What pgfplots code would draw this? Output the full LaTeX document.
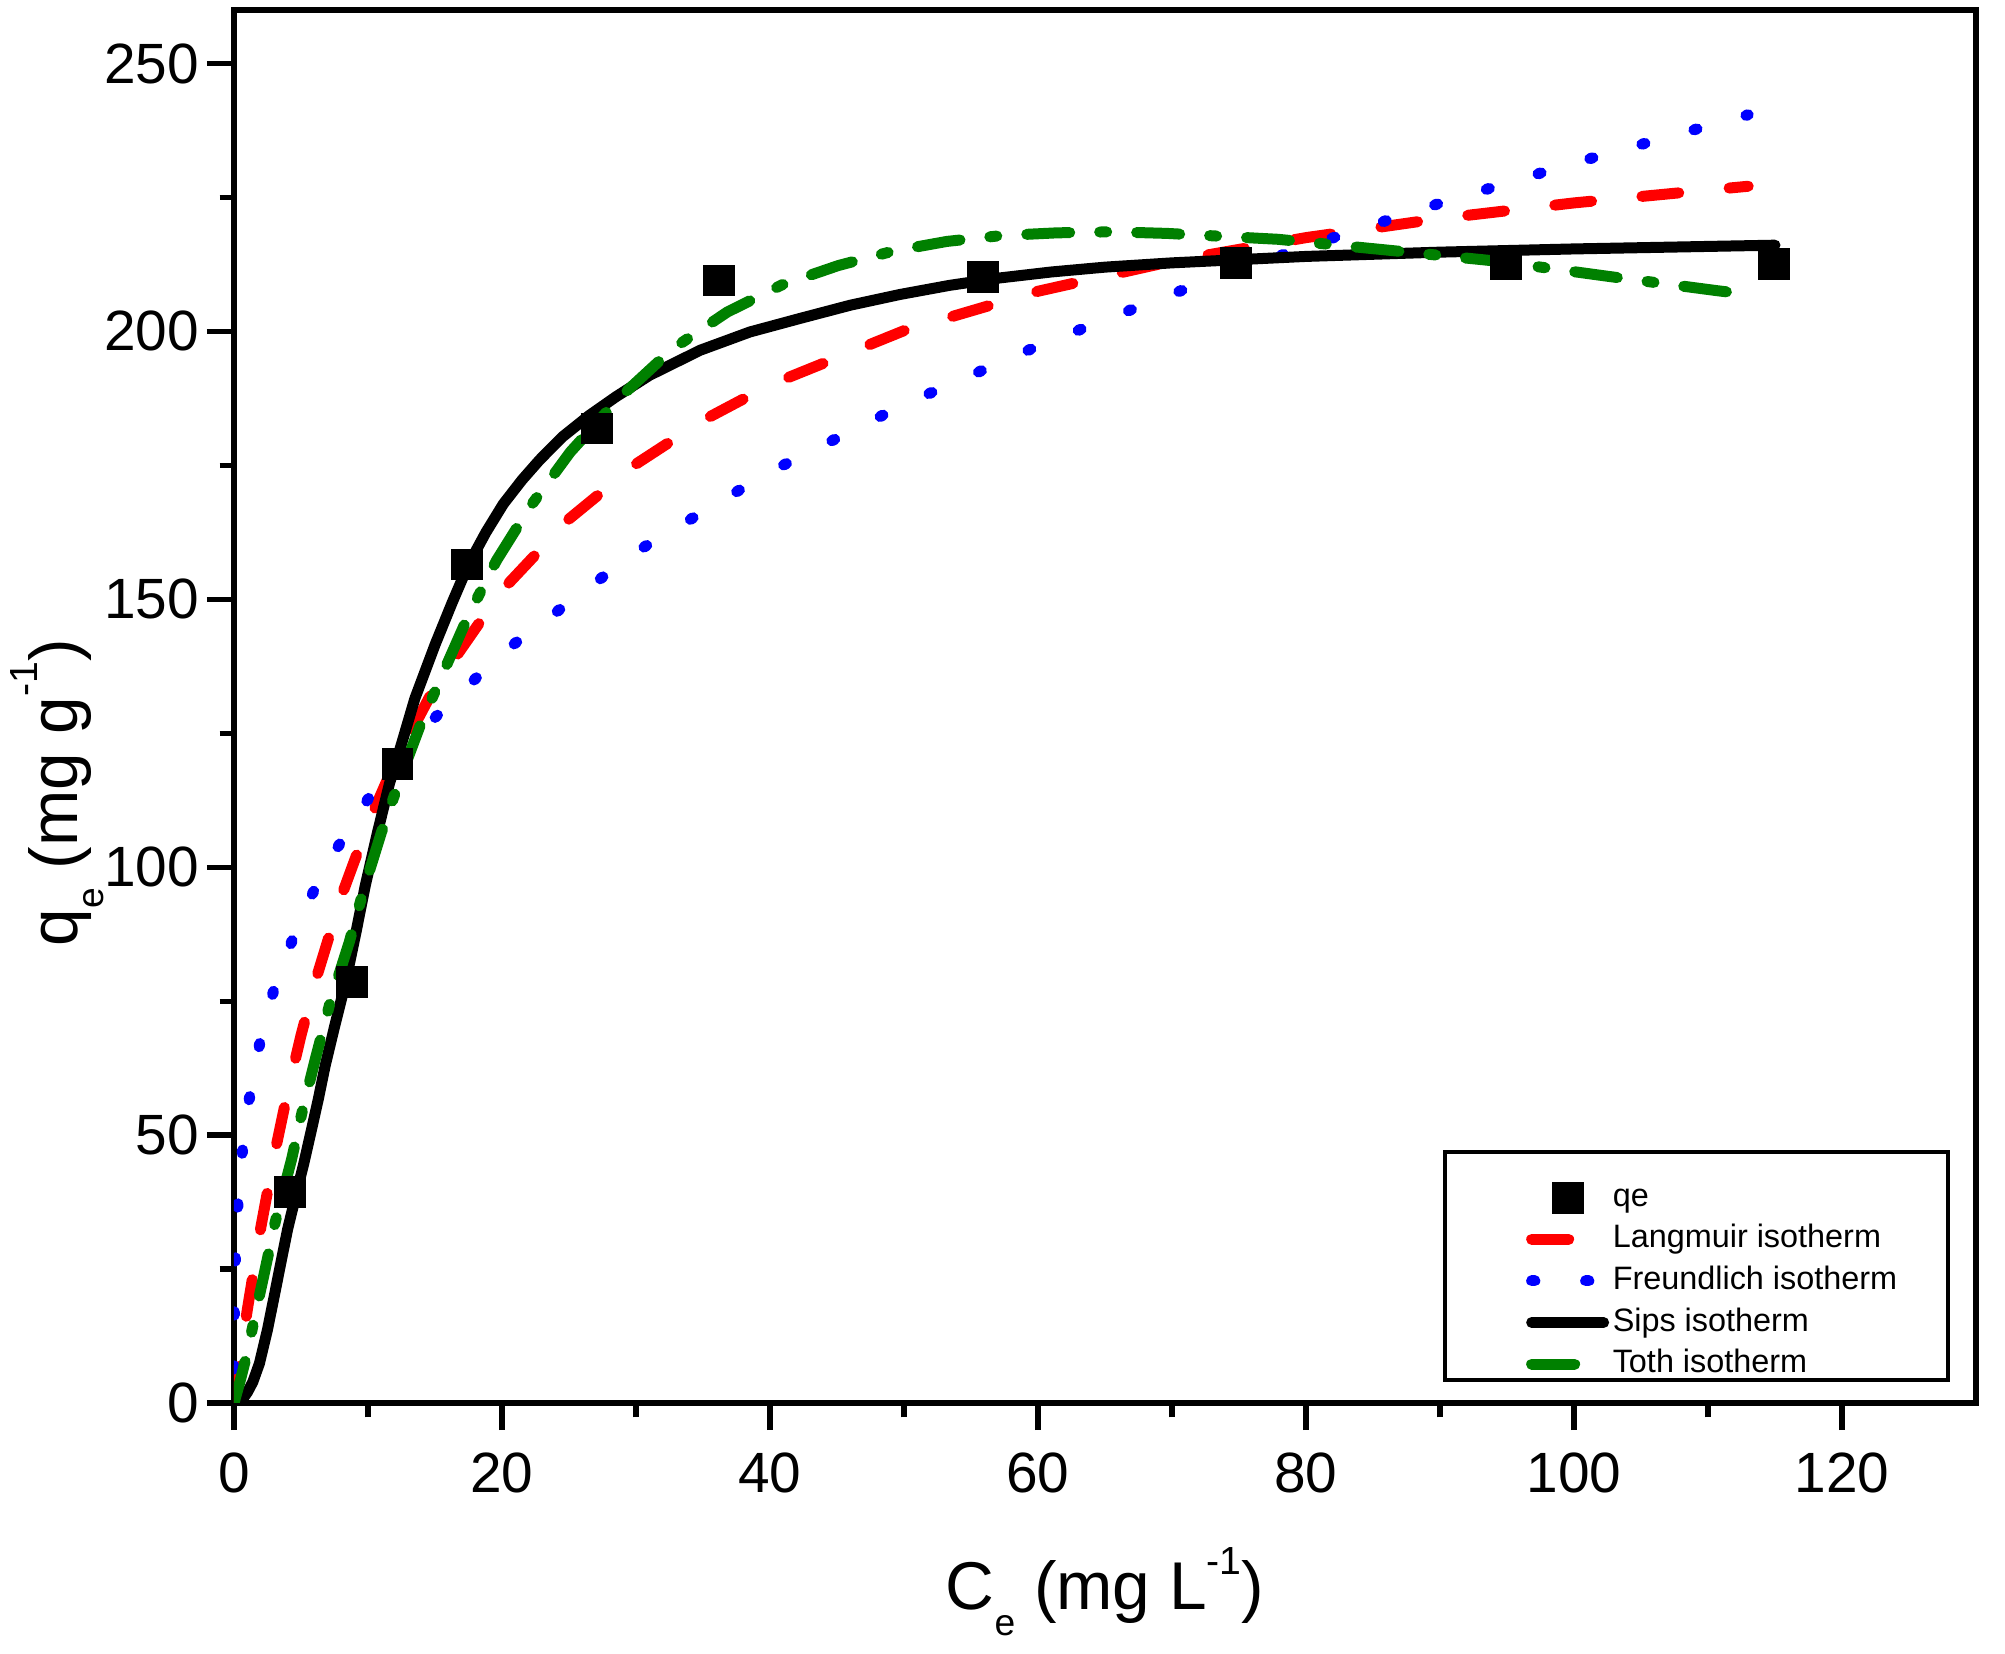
\documentclass[border=0pt]{standalone}
\usepackage{fontspec}
\setmainfont{Liberation Sans}
\usepackage{pgfplots}
\pgfplotsset{compat=1.18}

\definecolor{toth}{RGB}{0,128,0}

\begin{document}
\begin{tikzpicture}
\begin{axis}[
  scale only axis,
  width=435.5pt, height=348.25pt,
  xmin=0, xmax=130, ymin=0, ymax=260,
  xtick={0,20,...,120}, ytick={0,50,...,250},
  minor x tick num=1, minor y tick num=1,
  tick align=outside, tick pos=left,
  major tick length=6.8pt, minor tick length=3.6pt,
  axis line style={line width=1.3pt},
  tick style={black, line width=1.3pt},
  /pgf/number format/assume math mode=true,
  tick label style={font=\fontsize{14.2}{17}\selectfont},
  xticklabel style={yshift=-2.2pt},
  yticklabel style={xshift=1.6pt},
  label style={font=\fontsize{16.9}{20}\selectfont},
  xlabel={C\raisebox{-6.5pt}{\fontsize{9.3}{9.3}\selectfont e} (mg L\raisebox{8.75pt}{\fontsize{9.8}{9.8}\selectfont -1})},
  ylabel={q\raisebox{-6.5pt}{\fontsize{9.3}{9.3}\selectfont e} (mg g\raisebox{10pt}{\fontsize{9.8}{9.8}\selectfont -1})},
  xlabel style={at={(axis description cs:0.5,-0.1479)}, anchor=base},
  ylabel style={at={(axis description cs:-0.0901,0.438)}, anchor=base},
  legend style={
    at={(axis description cs:0.7413,0.159)}, anchor=north west,
    draw=none, fill=none,
    inner xsep=0pt, inner ysep=0pt,
    font=\fontsize{8.1}{9.7}\selectfont,
    row sep=2.7pt,
    nodes={inner xsep=0pt, inner ysep=0pt, text height=6pt, text depth=1.7pt},
    /tikz/every odd column/.append style={column sep=0.9pt},
  },
  legend cell align=left,
  legend image code/.code={
    \draw[mark repeat=2,mark phase=2,#1] plot coordinates {(0pt,0pt) (9pt,0pt) (18pt,0pt)};},
]

% experimental points
\addplot[only marks, mark=square*, mark size=3.85pt,
  mark options={draw=black, fill=black, line width=0pt}] coordinates {
  (4.2,39.4) (8.8,78.5) (12.2,119.3) (17.4,156.5) (27.1,181.9)
  (36.2,209.5) (55.9,210.1) (74.8,212.7) (94.9,212.5) (114.9,212.6)
};
\addlegendentry{qe}

% Langmuir
\addplot[red, line width=2.75pt, line cap=round, line join=round,
  dash pattern=on 9.25pt off 12.65pt] coordinates {
  (0,0) (0.5,9.06) (1,17.50) (2,32.75) (3,46.15) (4,58.02) (5,68.61)
  (6,78.12) (8,94.48) (10,108.07) (12,119.52) (15,133.69) (20,151.68)
  (25,164.99) (30,175.25) (35,183.40) (40,190.02) (50,200.14) (60,207.50)
  (70,213.11) (80,217.51) (90,221.07) (100,223.99) (113,227.10)
};
\addlegendentry{Langmuir isotherm}

% Freundlich
\addplot[blue, line width=2.75pt, line cap=round, line join=round,
  dash pattern=on 0.8pt off 12.7pt] coordinates {
  (0.001,6.34) (0.01,13.02) (0.05,21.52) (0.1,26.73) (0.25,35.58)
  (0.5,44.19) (1,54.88) (2,68.15) (3,77.36) (5,90.75) (7,100.81)
  (10,112.70) (15,127.92) (20,139.96) (30,158.86) (40,173.80)
  (50,186.35) (60,197.28) (70,207.01) (80,215.84) (90,223.93)
  (100,231.43) (113,240.44)
};
\addlegendentry{Freundlich isotherm}

% Sips
\addplot[black, line width=2.75pt, line cap=round, line join=round] coordinates {
  (0.6,0.6) (1.0,2.0) (1.4,3.9) (1.9,7.4) (2.5,13.7) (3.0,19.9) (3.5,26.2)
  (4.0,32.4) (4.6,38.6) (5.2,44.6) (5.8,51.2) (6.3,56.8) (6.8,62.9)
  (7.5,70.2) (8.3,78.2) (9.1,87.8) (9.8,96.6) (10.7,106.4) (11.6,115.6)
  (12.5,123.0) (13.5,131.5) (15.0,141.5) (16.3,149.5) (17.5,156.5)
  (18.8,162.5) (20.1,167.8) (21.5,172.3) (22.8,176.0) (24.5,180.3)
  (26.5,184.3) (28.5,187.8) (31.0,191.8) (34.8,196.5) (38.5,199.9)
  (42.2,202.4) (46.0,204.9) (49.7,206.9) (53.4,208.6) (57.2,210.0)
  (61.0,211.1) (65,212.0) (70,212.8) (80,214.0) (90,214.8) (100,215.4)
  (115,216.1)
};
\addlegendentry{Sips isotherm}

% Toth
\addplot[toth, line width=2.75pt, line cap=round, line join=round,
  dash pattern=on 10.75pt off 7.5pt on 1.75pt off 7.5pt] coordinates {
  (0,0) (0.5,4.5) (1.0,9.5) (1.5,15.5) (2.2,23.5) (3.1,34.0) (4.3,45.5)
  (5.1,54.5) (6.1,64.5) (7.2,75.0) (8.6,86.0) (9.7,96.0) (11.0,106.5)
  (12.4,116.5) (13.9,126.5) (15.7,136.8) (17.5,147.0) (19.6,157.3)
  (22.1,167.3) (25.1,177.5) (28.8,187.7) (32.7,196.7) (36.8,203.6)
  (40.9,208.7) (45.1,212.3) (49.2,215.0) (53.2,216.8) (57.3,217.9)
  (61.4,218.4) (65.5,218.6) (69.6,218.3) (77.9,217.2) (86.0,215.2)
  (94.3,213.1) (102.5,210.3) (110.7,207.6) (112.7,207.0)
};
\addlegendentry{Toth isotherm}

% legend frame
\draw[black, line width=0.8pt] (axis description cs:0.6952,0.0165)
  rectangle (axis description cs:0.9839,0.1802);

\end{axis}
\pgfresetboundingbox
\useasboundingbox ([shift={(-58.5pt,-62.75pt)}]current axis.south west)
  rectangle ([shift={(7.25pt,2.5pt)}]current axis.north east);
\end{tikzpicture}
\end{document}
